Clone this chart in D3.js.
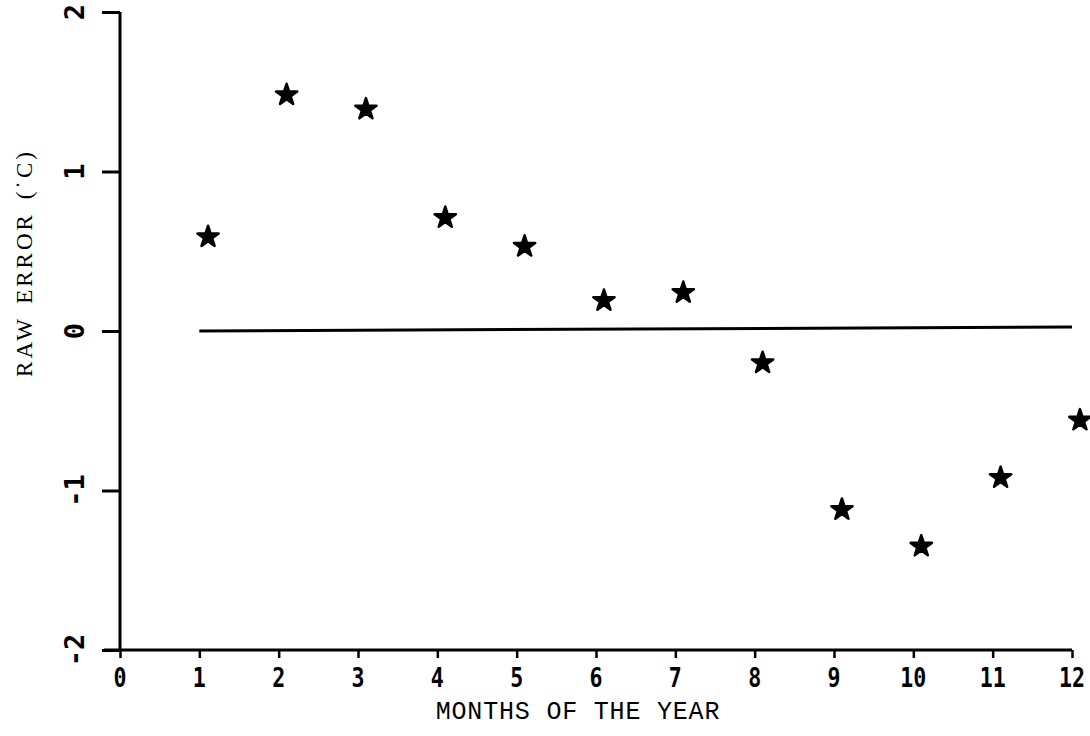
<!DOCTYPE html>
<html>
<head>
<meta charset="utf-8">
<script src="https://cdn.jsdelivr.net/npm/d3@7"></script>
<style>
  html, body { margin: 0; padding: 0; background: #fff; }
  svg { display: block; }
</style>
</head>
<body>
<svg id="chart" width="1090" height="736"></svg>
<script>
// ---- data ----
const months = [1.11, 2.1, 3.1, 4.1, 5.1, 6.1, 7.1, 8.1, 9.1, 10.1, 11.1, 12.1];
const rawError = [0.59, 1.48, 1.39, 0.71, 0.53, 0.19, 0.24, -0.20, -1.12, -1.35, -0.92, -0.56];
const xTicks = [0, 1, 2, 3, 4, 5, 6, 7, 8, 9, 10, 11, 12];
const yTicks = [-2, -1, 0, 1, 2];
const zeroLineX = [1, 12];
const zeroLineY = [0, 0.025];
const xTitle = "MONTHS OF THE YEAR";
const yTitle = "RAW ERROR (\u02D9C)";

// ---- layout ----
const svg = d3.select("#chart");
const x = d3.scaleLinear().domain([0, 12]).range([120, 1072]);
const y = d3.scaleLinear().domain([-2, 2]).range([650, 12]);
const ink = "#000";

// y axis
const yAxis = d3.axisLeft(y).tickValues(yTicks).tickSize(18).tickFormat("");
const gy = svg.append("g").attr("transform", `translate(${x(0)},0)`).call(yAxis);
gy.select(".domain").attr("d", `M0,${y(2)}V${y(-2)}`).attr("stroke", ink).attr("stroke-width", 3);
gy.selectAll(".tick line").attr("stroke", ink).attr("stroke-width", 3);

// y tick labels (rotated)
svg.append("g").selectAll("text").data(yTicks).join("text")
  .attr("transform", d => `translate(84,${y(d)}) rotate(-90)`)
  .attr("text-anchor", "middle")
  .attr("font-family", "'DejaVu Sans Mono', monospace")
  .attr("font-size", 27)
  .attr("font-weight", "bold")
  .attr("fill", ink)
  .text(d => d);

// x axis
const xAxis = d3.axisBottom(x).tickValues(xTicks).tickSize(8).tickFormat("");
const gx = svg.append("g").attr("transform", `translate(0,${y(-2)})`).call(xAxis);
gx.select(".domain").attr("d", `M${x(0) - 16},0H${x(12)}`).attr("stroke", ink).attr("stroke-width", 3);
gx.selectAll(".tick line").attr("stroke", ink).attr("stroke-width", 2.5);

// x tick labels
svg.append("g").selectAll("text").data(xTicks).join("text")
  .attr("transform", d => `translate(${x(d)},687) scale(0.8,1)`)
  .attr("text-anchor", "middle")
  .attr("font-family", "'DejaVu Sans Mono', monospace")
  .attr("font-size", 27)
  .attr("font-weight", "bold")
  .attr("fill", ink)
  .text(d => d);

// zero reference line
const zl = zeroLineX.map((v, i) => [v, zeroLineY[i]]);
svg.append("path")
  .attr("d", d3.line().x(d => x(d[0])).y(d => y(d[1]))(zl))
  .attr("fill", "none").attr("stroke", ink).attr("stroke-width", 3);

// stars
const star = d3.symbol().type(d3.symbolStar).size(140);
svg.append("g").selectAll("path").data(months).join("path")
  .attr("transform", (d, i) => `translate(${x(d)},${y(rawError[i])})`)
  .attr("d", star)
  .attr("fill", ink)
  .attr("stroke", ink)
  .attr("stroke-width", 2.5)
  .attr("stroke-linejoin", "round");

// axis titles
svg.append("text")
  .attr("x", 578).attr("y", 719)
  .attr("text-anchor", "middle")
  .attr("font-family", "'Liberation Mono', monospace")
  .attr("font-size", 25)
  .attr("letter-spacing", 0.8)
  .attr("fill", ink)
  .text(xTitle);

svg.append("text")
  .attr("transform", "translate(32,263) rotate(-90)")
  .attr("text-anchor", "middle")
  .attr("font-family", "'Liberation Serif', serif")
  .attr("font-size", 23)
  .attr("letter-spacing", 3)
  .attr("word-spacing", 4)
  .attr("fill", ink)
  .text(yTitle);
</script>
</body>
</html>
